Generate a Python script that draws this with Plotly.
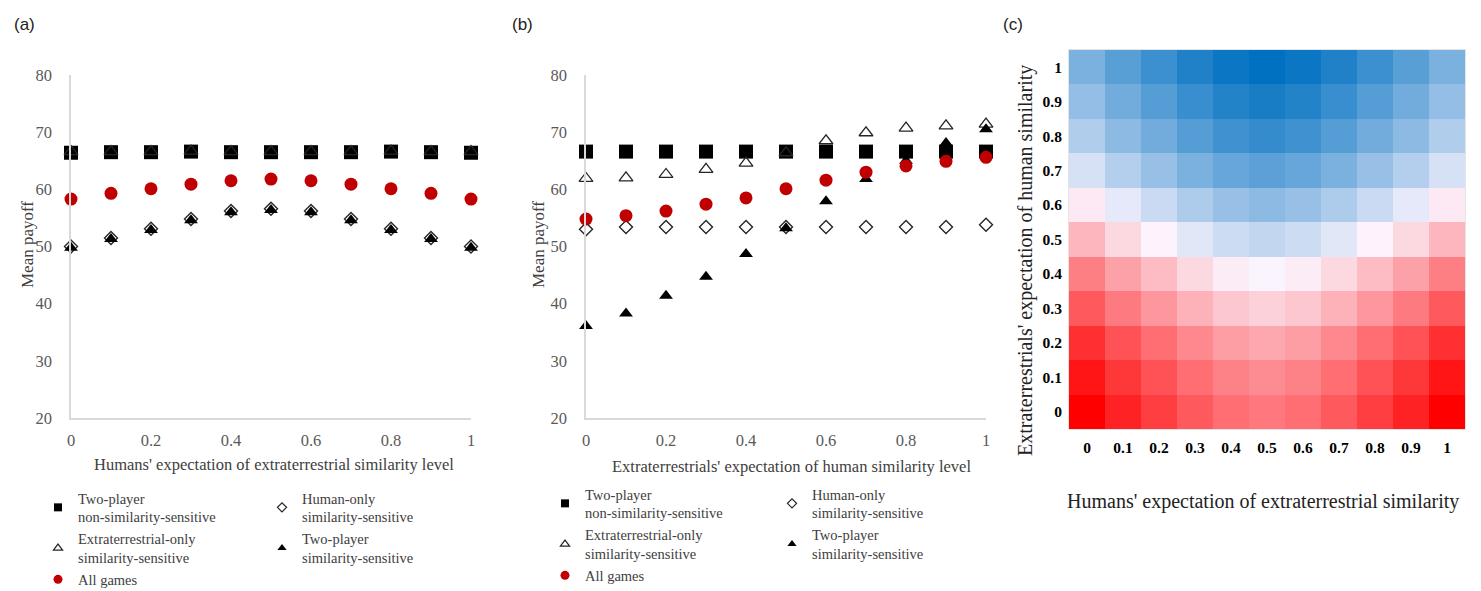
import plotly.graph_objects as go

# The page body has an 8px default margin; the figure is sized and
# positioned so that its content lands at the reference's pixel positions.
VIEW_W, VIEW_H = 1481, 591
OFF = 8
W, H = VIEW_W - OFF, VIEW_H - OFF

# ---------------- data ----------------
levels = [0, 0.1, 0.2, 0.3, 0.4, 0.5, 0.6, 0.7, 0.8, 0.9, 1.0]
level_labels = ["0", "0.1", "0.2", "0.3", "0.4", "0.5", "0.6", "0.7", "0.8", "0.9", "1"]
x_ticks = [0, 0.2, 0.4, 0.6, 0.8, 1.0]
x_tick_labels = ["0", "0.2", "0.4", "0.6", "0.8", "1"]

series_names = [
    "Two-player<br>non-similarity-sensitive",
    "Human-only<br>similarity-sensitive",
    "Extraterrestrial-only<br>similarity-sensitive",
    "Two-player<br>similarity-sensitive",
    "All games",
]

# Panel (a): humans' expectation of extraterrestrial similarity
a_two_player_non = [66.4, 66.5, 66.5, 66.6, 66.5, 66.5, 66.5, 66.5, 66.6, 66.5, 66.4]
a_human_only = [50.0, 51.5, 53.1, 54.8, 56.2, 56.6, 56.2, 54.8, 53.1, 51.5, 50.0]
a_extra_only = [66.6, 66.6, 66.6, 66.7, 66.6, 66.6, 66.6, 66.6, 66.7, 66.6, 66.6]
a_two_player_sim = [49.8, 51.3, 52.9, 54.6, 56.0, 56.4, 56.0, 54.6, 52.9, 51.3, 49.8]
a_all = [58.3, 59.3, 60.1, 60.9, 61.5, 61.8, 61.5, 60.9, 60.1, 59.3, 58.3]

# Panel (b): extraterrestrials' expectation of human similarity
b_two_player_non = [66.6, 66.6, 66.6, 66.6, 66.6, 66.6, 66.6, 66.6, 66.6, 66.6, 66.6]
b_human_only = [53.0, 53.4, 53.4, 53.4, 53.4, 53.4, 53.4, 53.4, 53.4, 53.4, 53.8]
b_extra_only = [61.9, 62.0, 62.6, 63.5, 64.6, 66.4, 68.5, 69.9, 70.7, 71.1, 71.4]
b_two_player_sim = [36.1, 38.3, 41.4, 44.7, 48.7, 53.2, 57.9, 61.8, 65.0, 68.1, 70.5]
b_all = [54.8, 55.4, 56.2, 57.4, 58.5, 60.1, 61.6, 63.0, 64.1, 64.9, 65.6]

# Panel (c): mean payoff heatmap, rows = extraterrestrials' expectation 0..1,
# columns = humans' expectation 0..1
heat_z = [
    [52.95, 53.95, 54.75, 55.55, 56.15, 56.45, 56.15, 55.55, 54.75, 53.95, 52.95],
    [53.55, 54.55, 55.35, 56.15, 56.75, 57.05, 56.75, 56.15, 55.35, 54.55, 53.55],
    [54.35, 55.35, 56.15, 56.95, 57.55, 57.85, 57.55, 56.95, 56.15, 55.35, 54.35],
    [55.55, 56.55, 57.35, 58.15, 58.75, 59.05, 58.75, 58.15, 57.35, 56.55, 55.55],
    [56.65, 57.65, 58.45, 59.25, 59.85, 60.15, 59.85, 59.25, 58.45, 57.65, 56.65],
    [58.25, 59.25, 60.05, 60.85, 61.45, 61.75, 61.45, 60.85, 60.05, 59.25, 58.25],
    [59.75, 60.75, 61.55, 62.35, 62.95, 63.25, 62.95, 62.35, 61.55, 60.75, 59.75],
    [61.15, 62.15, 62.95, 63.75, 64.35, 64.65, 64.35, 63.75, 62.95, 62.15, 61.15],
    [62.25, 63.25, 64.05, 64.85, 65.45, 65.75, 65.45, 64.85, 64.05, 63.25, 62.25],
    [63.05, 64.05, 64.85, 65.65, 66.25, 66.55, 66.25, 65.65, 64.85, 64.05, 63.05],
    [63.75, 64.75, 65.55, 66.35, 66.95, 67.25, 66.95, 66.35, 65.55, 64.75, 63.75],
]

# ---------------- styles ----------------
SERIF = "Liberation Serif"
SANS = "Liberation Sans"
AXIS_GRAY = "#D9D9D9"
TICK_GRAY = "#595959"
TEXT_DARK = "#404040"
RED = "#C00000"

marker_styles = [
    dict(symbol="square", size=14, color="black"),
    dict(symbol="diamond-open", size=10, color="#262626", line=dict(width=1.4, color="#262626")),
    dict(symbol="triangle-up-open", size=12, color="#262626", line=dict(width=1.3, color="#262626")),
    dict(symbol="triangle-up", size=12, color="black"),
    dict(symbol="circle", size=13, color=RED),
]
legend_marker_styles = [
    dict(symbol="square", size=8, color="black"),
    dict(symbol="diamond-open", size=7, color="#262626", line=dict(width=1.2, color="#262626")),
    dict(symbol="triangle-up-open", size=8, color="#262626", line=dict(width=1.2, color="#262626")),
    dict(symbol="triangle-up", size=8, color="black"),
    dict(symbol="circle", size=9, color=RED),
]

fig = go.Figure()

panel_a = [a_two_player_non, a_human_only, a_extra_only, a_two_player_sim, a_all]
panel_b = [b_two_player_non, b_human_only, b_extra_only, b_two_player_sim, b_all]

legend_map_a = ["legend", "legend2", "legend", "legend2", "legend"]
legend_map_b = ["legend3", "legend4", "legend3", "legend4", "legend3"]

for vals, ms in zip(panel_a, marker_styles):
    fig.add_trace(go.Scatter(x=levels, y=vals, mode="markers", marker=ms,
                             showlegend=False, cliponaxis=False, xaxis="x", yaxis="y"))
for vals, ms in zip(panel_b, marker_styles):
    fig.add_trace(go.Scatter(x=levels, y=vals, mode="markers", marker=ms,
                             showlegend=False, cliponaxis=False, xaxis="x2", yaxis="y2"))

# legend entries
for name, ms, lg in zip(series_names, legend_marker_styles, legend_map_a):
    fig.add_trace(go.Scatter(x=[None], y=[None], mode="markers", marker=ms, name=name,
                             legend=lg, showlegend=True, xaxis="x", yaxis="y"))
for name, ms, lg in zip(series_names, legend_marker_styles, legend_map_b):
    fig.add_trace(go.Scatter(x=[None], y=[None], mode="markers", marker=ms, name=name,
                             legend=lg, showlegend=True, xaxis="x2", yaxis="y2"))

# heatmap
fig.add_trace(go.Heatmap(
    x=levels, y=levels, z=heat_z,
    colorscale=[[0.0, "rgb(255,0,0)"], [0.5, "rgb(252,245,255)"], [1.0, "rgb(0,112,192)"]],
    showscale=False, xaxis="x3", yaxis="y3", hoverinfo="skip",
))


def px_x(p):
    return (p - OFF) / W


def px_y(p):
    return 1 - (p - OFF) / H


tick_font = dict(family=SERIF, size=16.5, color=TICK_GRAY)
scatter_x_common = dict(range=[0, 1], tickvals=x_ticks, ticktext=x_tick_labels,
                        showline=True, linecolor=AXIS_GRAY, linewidth=1.5,
                        showgrid=False, zeroline=False, ticks="", tickfont=tick_font,
                        ticklabelstandoff=6, fixedrange=True, automargin=False)
scatter_y_common = dict(range=[20, 80], tickvals=[20, 30, 40, 50, 60, 70, 80],
                        showline=True, linecolor=AXIS_GRAY, linewidth=1.5,
                        showgrid=False, zeroline=False, ticks="", tickfont=tick_font,
                        ticklabelstandoff=14, fixedrange=True, automargin=False)

heat_font = dict(family=SERIF, size=15.5, color="black", weight="bold")

legend_common = dict(orientation="v", xanchor="left", yanchor="top",
                     bgcolor="rgba(0,0,0,0)", borderwidth=0,
                     font=dict(family=SERIF, size=14.5, color=TEXT_DARK),
                     traceorder="normal", itemclick=False, itemdoubleclick=False)

fig.update_layout(
    width=W, height=H,
    margin=dict(l=0, r=0, t=0, b=0, autoexpand=False),
    paper_bgcolor="white", plot_bgcolor="white",
    xaxis=dict(domain=[px_x(71), px_x(471)], anchor="y", **scatter_x_common),
    yaxis=dict(domain=[px_y(418), px_y(75)], anchor="x", **scatter_y_common),
    xaxis2=dict(domain=[px_x(586), px_x(986)], anchor="y2", **scatter_x_common),
    yaxis2=dict(domain=[px_y(418), px_y(75)], anchor="x2", **scatter_y_common),
    xaxis3=dict(domain=[px_x(1069), px_x(1465)], anchor="y3", range=[-0.05, 1.05],
                tickvals=levels, ticktext=level_labels, tickfont=heat_font,
                showline=True, mirror=True, linecolor="#E4E4E4", linewidth=1,
                showgrid=False, zeroline=False, ticks="", ticklabelstandoff=4,
                fixedrange=True, automargin=False),
    yaxis3=dict(domain=[px_y(429), px_y(50)], anchor="x3", range=[-0.05, 1.05],
                tickvals=levels, ticktext=level_labels, tickfont=heat_font,
                showline=True, mirror=True, linecolor="#E4E4E4", linewidth=1,
                showgrid=False, zeroline=False, ticks="", ticklabelstandoff=3,
                fixedrange=True, automargin=False),
    legend=dict(x=px_x(38), y=px_y(482), **legend_common),
    legend2=dict(x=px_x(262), y=px_y(482), **legend_common),
    legend3=dict(x=px_x(545), y=px_y(478), **legend_common),
    legend4=dict(x=px_x(772), y=px_y(478), **legend_common),
)

annotations = [
    dict(text="(a)", x=px_x(24), y=px_y(24), font=dict(family=SANS, size=17, color="#222")),
    dict(text="(b)", x=px_x(522), y=px_y(24), font=dict(family=SANS, size=17, color="#222")),
    dict(text="(c)", x=px_x(1013), y=px_y(24), font=dict(family=SANS, size=17, color="#222")),
    dict(text="Humans' expectation of extraterrestrial similarity level", x=px_x(274), y=px_y(464),
         font=dict(family=SERIF, size=16.5, color=TEXT_DARK)),
    dict(text="Mean payoff", x=px_x(27), y=px_y(245), textangle=-90,
         font=dict(family=SERIF, size=17, color=TEXT_DARK)),
    dict(text="Extraterrestrials' expectation of human similarity level", x=px_x(791), y=px_y(466),
         font=dict(family=SERIF, size=16.5, color=TEXT_DARK)),
    dict(text="Mean payoff", x=px_x(538), y=px_y(245), textangle=-90,
         font=dict(family=SERIF, size=17, color=TEXT_DARK)),
    dict(text="Humans' expectation of extraterrestrial similarity", x=px_x(1263), y=px_y(501),
         font=dict(family=SERIF, size=20, color="#222")),
    dict(text="Extraterrestrials' expectation of human similarity", x=px_x(1025), y=px_y(261),
         textangle=-90, font=dict(family=SERIF, size=20, color="#222")),
]
for a in annotations:
    a.update(xref="paper", yref="paper", showarrow=False, xanchor="center", yanchor="middle")
fig.update_layout(annotations=annotations)

fig.write_html("out.html")
